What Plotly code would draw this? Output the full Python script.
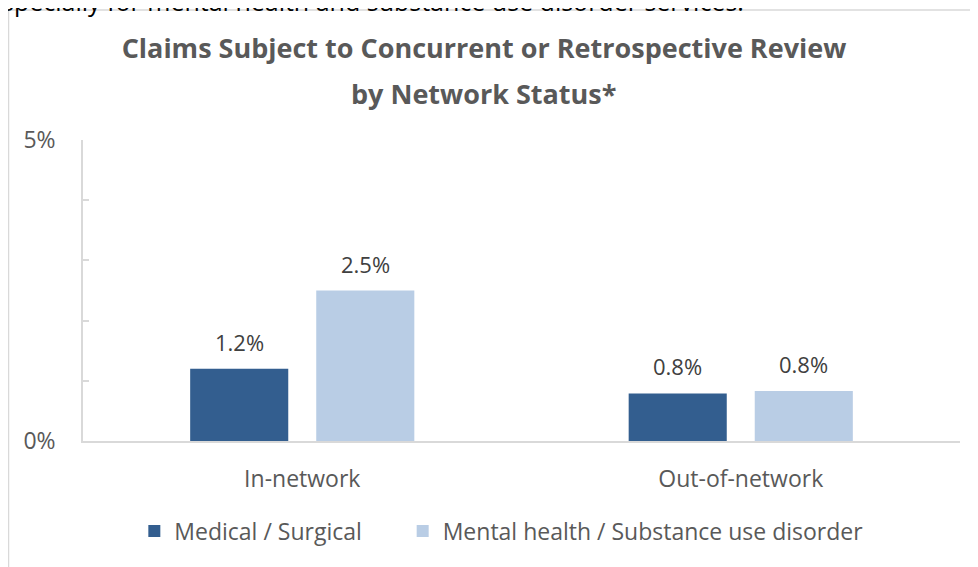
import plotly.graph_objects as go

categories = ["In-network", "Out-of-network"]
medical_surgical = [1.2, 0.79]
mental_health_sud = [2.5, 0.83]
series_names = ["Medical / Surgical", "Mental health / Substance use disorder"]
series_colors = ["#335E8F", "#B9CDE5"]
y_tick_vals = [0, 1, 2, 3, 4, 5]
y_tick_text = ["0%", "", "", "", "", "5%"]
title_line1 = "Claims Subject to Concurrent or Retrospective Review"
title_line2 = "by Network Status*"
caption = "especially for mental health and substance use disorder services."

FONT = "Open Sans, Noto Sans, sans-serif"
GREY = "#595959"
BARGAP = 0.425
BARGROUPGAP = 0.222
LEGEND_PAD = "\u00a0" * 6

fig = go.Figure()
series = [medical_surgical, mental_health_sud]
for k, (name, vals, col) in enumerate(zip(series_names, series, series_colors)):
    fig.add_trace(go.Bar(
        x=categories, y=vals,
        name=name + (LEGEND_PAD if k < len(series_names) - 1 else ""),
        marker=dict(color=col, line=dict(width=0)),
    ))

# value labels above bars
slot = (1 - BARGAP) / len(series)
annotations = []
for i, vals in enumerate(series):
    for j, v in enumerate(vals):
        annotations.append(dict(
            x=j + (i - (len(series) - 1) / 2) * slot, y=v, xref="x", yref="y",
            text=f"{v:.1f}%", showarrow=False, yanchor="bottom", yshift=10,
            font=dict(family=FONT, size=22, color="#404040"),
        ))

# second title line
annotations.append(dict(
    x=0.457, y=1.156, xref="paper", yref="paper", xanchor="center", yanchor="middle",
    showarrow=False, text=f"<b>{title_line2}</b>",
    font=dict(family=FONT, size=27, color=GREY),
))

# cut-off caption line at the very top of the page
annotations.append(dict(
    x=0, y=1, xref="paper", yref="paper", xanchor="left", yanchor="bottom",
    xshift=-97, yshift=120, showarrow=False, text=caption,
    font=dict(family=FONT, size=25, color="#000000"),
))

fig.update_layout(
    width=970, height=559,
    margin=dict(l=75, r=18, t=132, b=126),
    paper_bgcolor="white", plot_bgcolor="white",
    bargap=BARGAP, bargroupgap=BARGROUPGAP,
    title=dict(
        text=f"<b>{title_line1}</b>",
        x=0.4907, xanchor="center", y=1 - 41 / 559, yanchor="middle",
        font=dict(family=FONT, size=27, color=GREY),
    ),
    font=dict(family=FONT, color=GREY),
    showlegend=True,
    legend=dict(
        orientation="h", x=0.477, xanchor="center", y=-0.299, yanchor="middle",
        font=dict(family=FONT, size=23, color=GREY), itemwidth=30,
    ),
    annotations=annotations,
    shapes=[
        dict(type="line", xref="paper", yref="paper", xsizemode="pixel", ysizemode="pixel",
             xanchor=0, yanchor=1, x0=-74.5, x1=-74.5, y0=130, y1=-500,
             line=dict(color="#D9D9D9", width=1.5)),
        dict(type="line", xref="paper", yref="paper", xsizemode="pixel", ysizemode="pixel",
             xanchor=0, yanchor=1, x0=-74.5, x1=1000, y0=130, y1=130,
             line=dict(color="#D9D9D9", width=1.5)),
    ],
)

fig.update_yaxes(
    range=[0, 5], tickvals=y_tick_vals, ticktext=y_tick_text,
    showgrid=False, zeroline=False,
    showline=True, linecolor="#D9D9D9", linewidth=1.5,
    ticks="inside", ticklen=6, tickcolor="#D9D9D9", tickwidth=1.5,
    tickfont=dict(family=FONT, size=23, color=GREY), ticklabelstandoff=21,
)
fig.update_xaxes(
    showgrid=False, showline=True, linecolor="#D9D9D9", linewidth=1.5,
    ticks="", tickfont=dict(family=FONT, size=23, color=GREY), ticklabelstandoff=17,
)

fig.write_html("out.html")
